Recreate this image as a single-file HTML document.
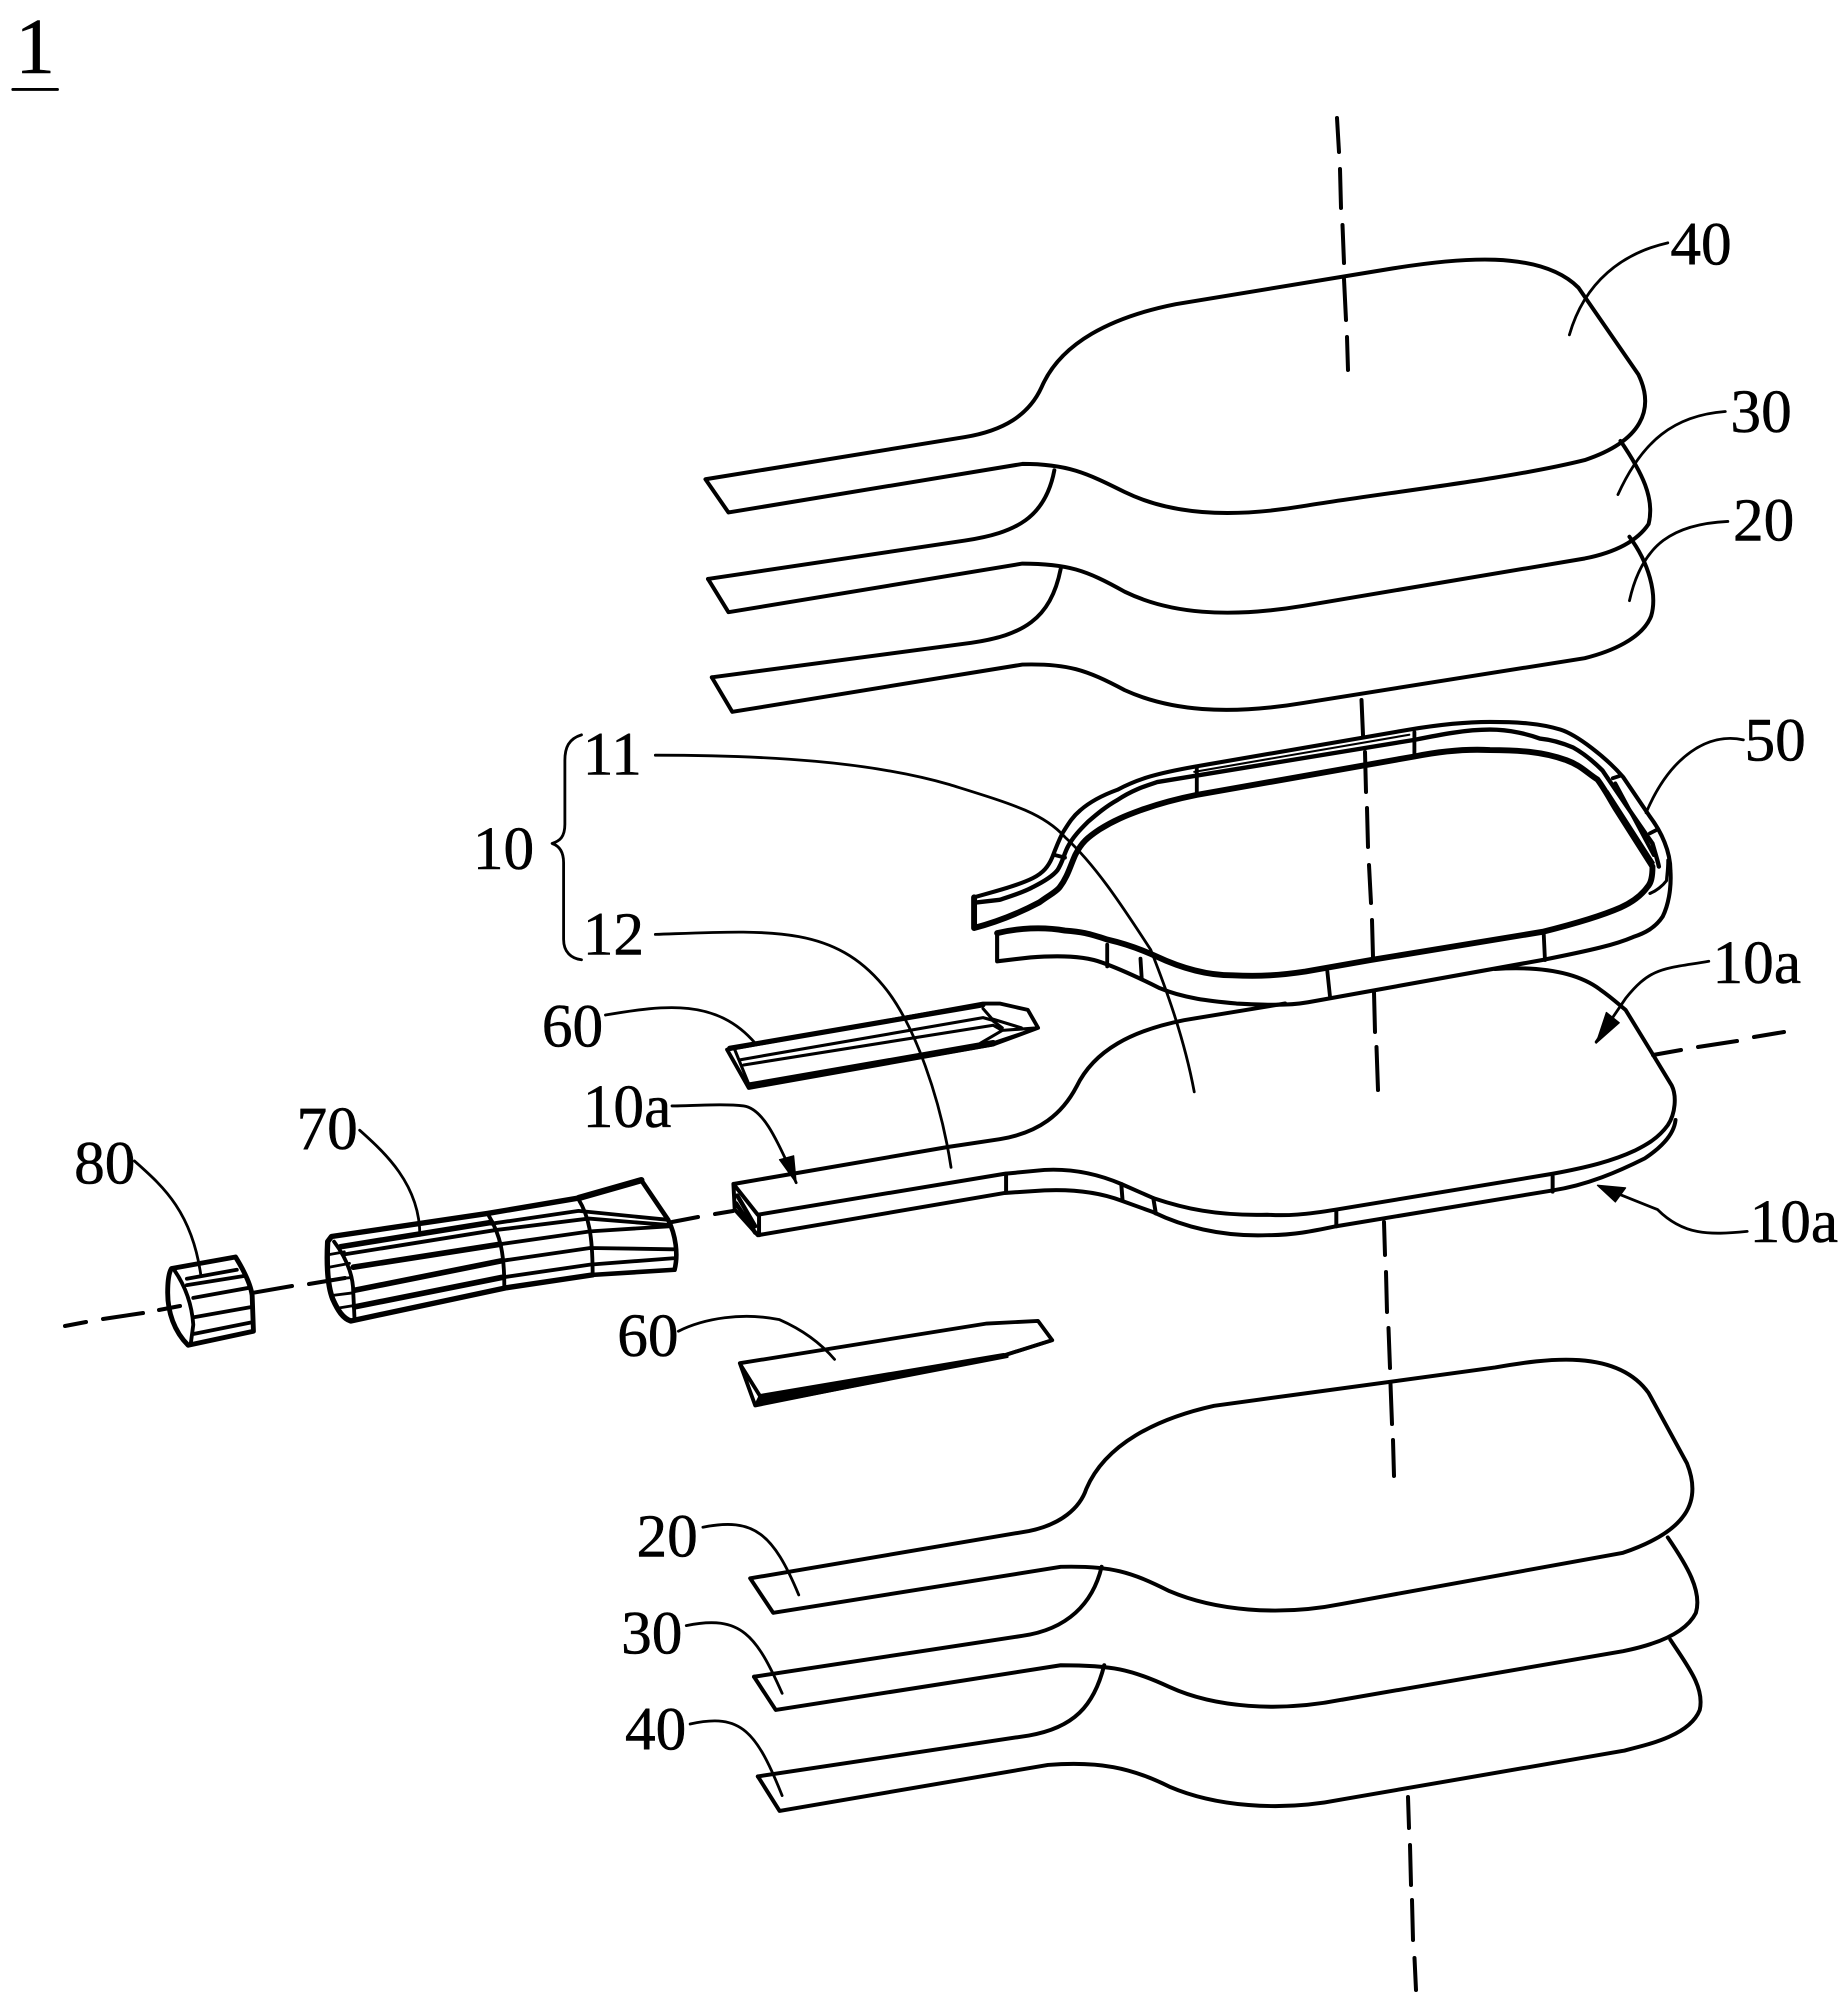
<!DOCTYPE html>
<html><head><meta charset="utf-8"><style>
html,body{margin:0;padding:0;background:#fff}
svg{display:block}
text{font-family:"Liberation Serif",serif;fill:#000;font-size:48px;stroke:#000;stroke-width:.4}
</style></head><body>
<svg width="1845" height="2003" viewBox="0 0 1845 2003" xmlns="http://www.w3.org/2000/svg">
<rect width="1845" height="2003" fill="#fff"/>
<!-- axes in source pixels -->
<g fill="none" stroke="#000" stroke-linecap="round" stroke-width="4">
<path d="M1337 118L1339 152M1340 169L1341 208M1342.5 225L1344 263M1344 279L1346 320M1347 337L1348 370"/>
<path d="M1361.5 700L1363 735M1365 752L1366 792M1367 808L1368 847M1369 865L1371 903M1372 920L1373 957M1374 992L1375 1032M1376.5 1047L1378 1090"/>
<path d="M1384 1222L1385 1255M1386 1272L1387 1312M1388.5 1328L1390 1368M1390.5 1384L1392 1424M1393 1440L1394 1476"/>
<path d="M1408 1797L1409 1828M1410 1845L1411 1885M1412 1900L1413 1940M1414.5 1958L1416 1990"/>
<path d="M65 1326L86 1322M103 1319L143 1313M159 1310L180 1306M252 1293L292 1286M309 1284L345 1278M672 1222L698 1217M715 1214L733 1211"/>
<path d="M1653 1055L1681 1050M1698 1047L1737 1041M1754 1037L1784 1032"/>
</g>
<!-- upper and lower paddles, labels -->
<g transform="scale(1.278)" fill="none" stroke="#000" stroke-linecap="round" stroke-linejoin="round">
<g stroke-width="3.1">
<path d="M552 375L755 342C785 337 805 325 815 303C830 268 870 248 920 238L1090 210C1140 202 1205 195 1235 225L1282 293C1295 320 1285 345 1240 360C1180 375 1080 386 1020 396C960 406 915 402 880 385C850 370 835 363 800 363L570 401Z"/>
<path d="M554 453L755 423C795 417 818 405 825 368"/>
<path d="M1268 345C1285 370 1295 390 1290 410C1280 425 1260 433 1240 437L1020 474C960 484 915 480 880 463C850 446 835 441 800 441L570 479L554 453"/>
<path d="M557 530L760 503C800 497 822 485 830 445"/>
<path d="M1275 420C1290 440 1297 465 1292 482C1285 500 1260 510 1240 515L1020 550C960 560 915 556 880 540C850 524 835 519 800 520L573 557L557 530"/>
<path d="M587 1235L805 1198C830 1193 845 1180 850 1165C865 1130 905 1110 950 1100L1170 1070C1210 1063 1265 1055 1290 1090L1320 1145C1332 1175 1320 1198 1270 1215L1050 1255C1000 1265 950 1260 915 1245C885 1230 870 1225 830 1226L605 1262Z"/>
<path d="M590 1312L800 1280C835 1275 855 1255 862 1226"/>
<path d="M1305 1203C1320 1225 1332 1245 1327 1262C1318 1280 1290 1288 1270 1292L1050 1330C1000 1340 950 1336 915 1320C885 1306 870 1303 830 1303L607 1338L590 1312"/>
<path d="M593 1390L805 1358C840 1352 856 1335 864 1303"/>
<path d="M1307 1283C1320 1303 1334 1320 1330 1338C1322 1358 1290 1365 1270 1370L1050 1408C1000 1418 950 1413 915 1398C885 1383 860 1378 820 1381L610 1417L593 1390"/>
</g>
<g stroke-width="2.2">
<path d="M1305 190C1270 198 1240 220 1228 262"/>
<path d="M1350 322C1310 325 1285 345 1266 387"/>
<path d="M1352 408C1310 410 1285 425 1275 470"/>
<path d="M550 1195C590 1187 605 1200 625 1248"/>
<path d="M537 1272C580 1263 592 1280 612 1325"/>
<path d="M540 1349C580 1340 592 1355 612 1405"/>
<path d="M455 575C445 578 442 585 442 595V645C442 655 438 658 432 660C438 662 441 667 441 675V735C441 745 447 750 455 751"/>
<path d="M10 70H45"/>
</g>
<text x="1307" y="207">40</text>
<text x="1354" y="338">30</text>
<text x="1356" y="423">20</text>
<text x="1365" y="595">50</text>
<text x="456" y="606">11</text>
<text x="370" y="680">10</text>
<text x="456" y="747">12</text>
<text x="424" y="819">60</text>
<text x="1340" y="769">10a</text>
<text x="456" y="882">10a</text>
<text x="1369" y="972">10a</text>
<text x="232" y="899">70</text>
<text x="58" y="926">80</text>
<text x="483" y="1061">60</text>
<text x="498" y="1218">20</text>
<text x="486" y="1294">30</text>
<text x="489" y="1369">40</text>
<text x="12" y="57" style="font-size:62px">1</text>
</g>
<!-- parts measured from source crops -->
<g transform="scale(1.28)" fill="none" stroke="#000" stroke-linecap="round" stroke-linejoin="round">
<!-- center paddle -->
<g stroke-width="3.1">
<path d="M573 925L741 896L781 890C812 885 830 870 841 849C855 820 885 805 925 797L1004 784"/>
<path d="M1168 757C1200 755 1230 758 1250 773C1260 780 1265 785 1270 789L1289 820L1306 848C1310 856 1309 870 1303 879C1295 890 1285 895 1277 899C1260 907 1240 912 1213 917L1044 945C1020 949 1005 950 990 949C950 950 925 944 901 936L876 925C855 916 835 913 816 914L785 917L592 949L573 925L574 945L592 965L785 932L816 930C840 929 860 932 876 938L901 947C930 961 960 966 990 965C1010 965 1025 962 1044 958L1213 930C1240 926 1265 915 1285 905C1300 895 1308 885 1309 875"/>
<path d="M786 917V931M876 925L877 938M901 936L903 948M1044 946V958M1213 919V931M593 949V965"/>
<path stroke-width="3.4" d="M576 934L590 958M575 940L590 963"/>
</g>
<!-- frame 50 -->
<g stroke-width="3">
<path stroke-width="3.2" d="M761 701C775 697 795 692 807 686C815 682 819 677 822 670C825 662 827 657 830 651C835 643 838 638 844 633C852 626 862 621 873 617C890 608 905 604 933 599L1101 570C1125 566 1145 564 1164 564C1185 564 1203 565 1219 570C1232 574 1255 592 1268 607L1289 638C1298 650 1305 665 1305 680C1306 695 1303 708 1299 716C1293 725 1285 729 1276 732C1262 738 1245 742 1205 750L1022 783C1005 786 985 785 966 784C945 782 925 780 906 772C890 764 875 757 861 752C848 747 830 746 805 748L779 751V729"/>
<path stroke-width="4.6" d="M761 725V701M761 725C780 720 795 714 812 705C820 699 825 697 828 693C834 685 836 677 840 668C845 658 850 654 859 648C870 641 880 637 891 633C905 628 920 624 935 621L1105 591C1125 587 1145 585 1164 586C1185 586 1205 587 1224 594C1235 598 1240 604 1248 609C1254 617 1258 625 1263 633L1291 677C1291 685 1290 690 1287 693C1282 700 1275 705 1266 709C1250 716 1225 723 1205 728L1071 750L1020 759C1000 762 985 763 963 762C940 762 920 755 903 747C890 741 878 737 865 734C850 729 845 728 832 727C815 724 795 725 779 729"/>
<path stroke-width="3.4" d="M763 705L781 703C790 700 800 697 807 693C815 689 822 685 826 680C830 674 831 668 834 662C838 654 844 648 850 642C857 636 864 630 873 625C885 617 895 614 904 611L1105 578C1125 574 1145 570 1164 570C1180 570 1195 574 1203 577C1213 578 1222 581 1229 584C1238 589 1245 595 1252 602C1258 611 1265 621 1271 630L1291 659C1293 666 1295 672 1296 677"/>
<path stroke-width="1.6" d="M933 603L1101 574M1256 618L1292 674"/>
<path stroke-width="3" d="M1262 612L1292 668"/>
<path stroke-width="2.4" d="M1303 672C1303 680 1302 685 1302 688C1299 692 1294 696 1289 698"/>
<path d="M935 600V619M1105 572V590M1260 608L1266 606M1289 651L1295 648M865 738V755M891 749L892 765M1037 759L1039 778M1206 729L1207 750M824 668L832 670"/>
</g>
<!-- 60 upper -->
<g stroke-width="2.4">
<path stroke-width="3" d="M568 820L585 850L776 816L811 803L803 789L781 784L768 784L568 820Z"/>
<path stroke-width="4" d="M570 819L768 785"/>
<path stroke-width="5" d="M586 848L776 815"/>
<path d="M574 820L585 847M578 828L768 795L775 797L783 803M581 832L776 801L783 805L766 815M768 788L775 796L798 803M783 805L811 803L778 814"/>
</g>
<!-- 60 lower -->
<g stroke-width="3">
<path d="M578 1065L771 1034L811 1032L822 1047L784 1059L590 1098L578 1065ZM579 1067L594 1091"/>
<path fill="#000" stroke-width="2" d="M590 1098L594 1090L784 1058L787 1060Z"/>
<path d="M784 1059L822 1047"/>
</g>
<!-- 80 -->
<g stroke-width="3">
<path stroke-width="3.8" d="M134 991L184 982C192 995 196 1005 197 1012L198 1040L147 1051C136 1040 131 1025 131 1010C131 1000 132 994 134 991Z"/>
<path d="M136 992C145 1005 150 1020 151 1035L149 1050M146 999L185 992M146 1004L190 997M151 1014L195 1006M152 1029L197 1021M152 1042L197 1033"/>
</g>
<!-- 70 -->
<g stroke-width="3">
<path stroke-width="4.2" d="M256 970L259 966L381 948L452 936M256 970C255 990 256 1005 260 1015C264 1024 268 1030 274 1032L396 1006L463 996"/>
<path stroke-width="5" d="M452 936L501 922"/>
<path stroke-width="3.6" d="M501 922L522 953C528 965 530 980 527 992L463 996"/>
<path d="M261 970C270 982 276 995 276 1010L277 1031M382 950C391 965 394 980 394 1005M452 937C460 950 463 965 463 996"/>
<path d="M384 956L452 946L522 953M269 980L387 961L460 952L522 957M391 972L461 962L524 958M392 985L461 975L526 976M392 998L461 988L526 983"/>
<path stroke-width="4.4" d="M266 974L384 955M276 990L391 972M277 1008L392 985M277 1021L392 998"/>
<path stroke-width="2.2" d="M258 980L269 978M257 990L273 987M257 1000L275 998M260 1012L276 1010M264 1022L276 1020"/>
</g>
<!-- leaders -->
<g stroke-width="2.2">
<path d="M1362 578C1335 572 1305 590 1286 635"/>
<path d="M512 590C600 590 680 595 742 613C790 628 815 635 832 654C855 675 875 705 899 742C910 770 925 810 933 853"/>
<path d="M512 730C600 727 650 722 690 770C715 800 735 860 743 912"/>
<path d="M473 793C520 785 560 780 590 815"/>
<path d="M525 864C540 864 565 862 581 864C595 866 605 885 622 924"/>
<path d="M530 1040C550 1030 580 1025 609 1031C625 1038 640 1048 652 1062"/>
<path d="M105 907C125 925 150 945 157 997"/>
<path d="M281 883C300 900 328 925 328 965"/>
<path d="M1335 751C1300 757 1290 755 1270 780L1247 814"/>
<path d="M1365 962C1335 965 1315 965 1295 945L1250 927"/>
<path d="M1247 815L1255 791L1265 799Z" fill="#000" stroke-width="1"/>
<path d="M1248 926L1270 928L1262 939Z" fill="#000" stroke-width="1"/>
<path d="M622 924L609 906L620 903Z" fill="#000" stroke-width="1"/>
</g>
</g>
</svg>
</body></html>
